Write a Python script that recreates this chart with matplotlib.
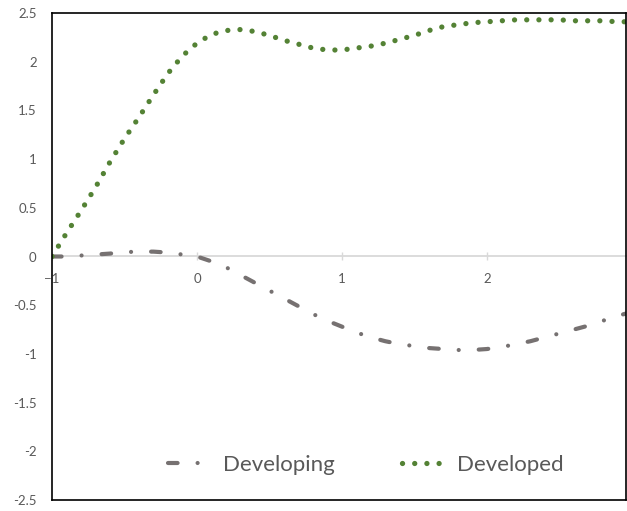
import numpy as np
import matplotlib
matplotlib.use("Agg")
import matplotlib.pyplot as plt

plt.rcParams['font.family'] = ['Lato', 'DejaVu Sans']

x = [-1.0, -0.9, -0.8, -0.7, -0.6, -0.5, -0.4, -0.3, -0.2, -0.1,
     0.0, 0.1, 0.2, 0.3, 0.4, 0.5, 0.6, 0.7, 0.8, 0.9,
     1.0, 1.1, 1.2, 1.3, 1.4, 1.5, 1.6, 1.7, 1.8, 1.9,
     2.0, 2.1, 2.2, 2.3, 2.4, 2.5, 2.6, 2.7, 2.8, 2.9, 3.0]

developing = [0.00, 0.00, 0.01, 0.02, 0.03, 0.045, 0.05, 0.05, 0.04, 0.02,
              0.00, -0.05, -0.11, -0.19, -0.27, -0.35, -0.43, -0.51, -0.59, -0.66,
              -0.72, -0.78, -0.83, -0.87, -0.90, -0.92, -0.94, -0.95, -0.96, -0.96,
              -0.95, -0.93, -0.90, -0.87, -0.83, -0.79, -0.75, -0.71, -0.66, -0.61, -0.57]

developed = [0.00, 0.24, 0.47, 0.71, 0.97, 1.21, 1.43, 1.66, 1.88, 2.06,
             2.19, 2.28, 2.32, 2.33, 2.31, 2.27, 2.22, 2.18, 2.14, 2.12,
             2.12, 2.14, 2.16, 2.19, 2.23, 2.27, 2.32, 2.36, 2.38, 2.40,
             2.41, 2.42, 2.43, 2.43, 2.43, 2.43, 2.42, 2.42, 2.42, 2.41, 2.41]

xticks = [-1, 0, 1, 2]
yticks = [-2.5, -2, -1.5, -1, -0.5, 0, 0.5, 1, 1.5, 2, 2.5]
ytick_labels = ['-2.5', '-2', '-1.5', '-1', '-0.5', '0', '0.5', '1', '1.5', '2', '2.5']

fig = plt.figure(figsize=(6.27, 5.11), dpi=100)
ax = fig.add_axes([52 / 627, 11 / 511, 574 / 627, 487 / 511])

l1, = ax.plot(x, developing, color='#767171', lw=3.0, label='Developing',
              dash_capstyle='round', solid_capstyle='round')
l1.set_dashes([2.3, 4.8, 0.01, 4.8])
l2, = ax.plot(x, developed, color='#548235', lw=3.8, label='Developed',
              dash_capstyle='round')
l2.set_dashes([0.01, 2.3])

ax.set_xlim(-1, 2.96)
ax.set_ylim(-2.5, 2.5)

ax.set_yticks(yticks)
ax.set_yticklabels(ytick_labels)
ax.tick_params(axis='y', length=0, pad=11, labelsize=9.5, labelcolor='#595959')
ax.set_xticks([])

for s in ax.spines.values():
    s.set_color('black')
    s.set_linewidth(1.2)

# horizontal axis crossing at y = 0
sec = ax.secondary_xaxis(0.5)
sec.set_xticks(xticks)
for s in sec.spines.values():
    s.set_color('#D9D9D9')
    s.set_linewidth(1.3)
sec.tick_params(axis='x', direction='inout', length=6, width=1, color='#D9D9D9',
                pad=9, labelsize=9.5, labelcolor='#595959',
                bottom=True, top=False, labelbottom=True, labeltop=False)

leg = ax.legend(loc='center', bbox_to_anchor=(0.547, 0.072), ncol=2, frameon=False,
                fontsize=16, handlelength=2.0, columnspacing=3.0, handletextpad=0.5)
for t in leg.get_texts():
    t.set_color('#595959')

fig.savefig('out.png', dpi=100)
